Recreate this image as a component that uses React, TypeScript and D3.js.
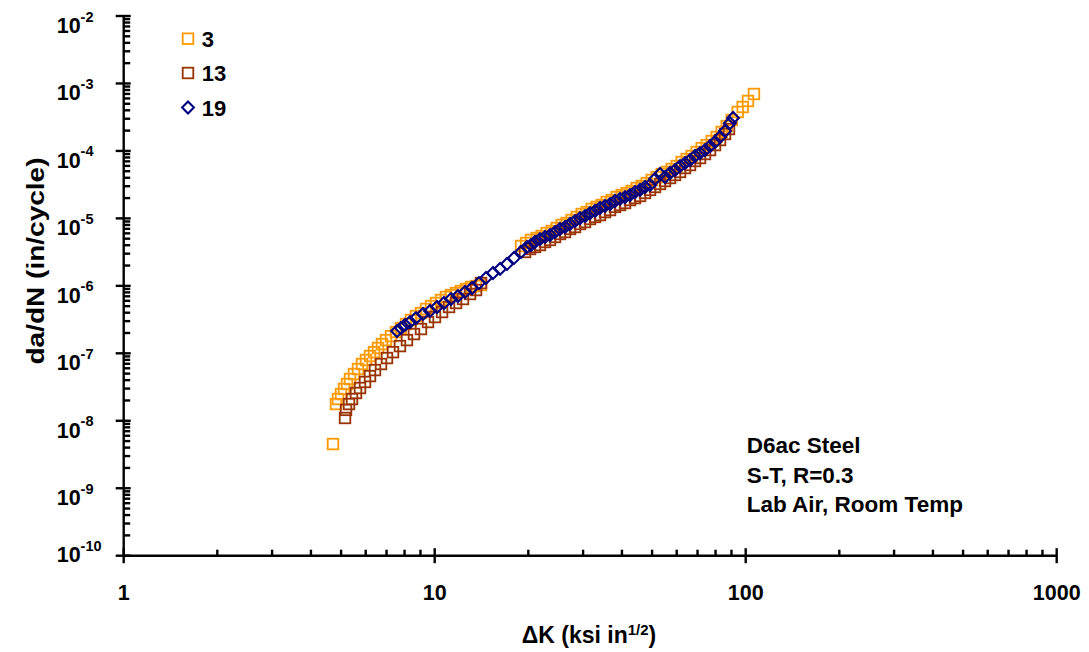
import React from "react";
import * as d3 from "d3";

// ---- data ----
const dK3 = [4.710, 4.815, 4.888, 4.997, 5.110, 5.224, 5.342, 5.502, 5.667, 5.837, 6.012, 6.194, 6.380, 6.571, 6.768, 6.972, 7.235, 7.508, 7.791, 8.085, 8.390, 8.707, 9.035, 9.376, 9.730, 10.10, 10.48, 10.87, 11.28, 11.71, 12.15, 12.61, 13.09, 13.58, 14.09,
  18.95, 19.67, 20.40, 21.28, 22.08, 22.91, 23.78, 24.68, 25.61, 26.57, 27.57, 28.62, 29.70, 30.82, 31.98, 33.18, 34.44, 35.73, 37.08, 38.48, 39.93, 41.44, 42.99, 44.62, 46.30, 48.05, 49.86, 51.74, 53.70, 55.72, 57.82, 59.99, 62.26, 64.61, 67.05, 69.57, 72.20, 74.92, 77.75, 80.68, 83.71, 86.88, 90.16, 94.25, 97.81, 101.7, 106.3];
const rate3 = [4.52e-9, 1.77e-8, 2.10e-8, 2.49e-8, 2.96e-8, 3.51e-8, 4.16e-8, 4.93e-8, 5.85e-8, 6.94e-8, 7.96e-8, 9.12e-8, 1.04e-7, 1.20e-7, 1.37e-7, 1.57e-7, 1.80e-7, 2.07e-7, 2.37e-7, 2.72e-7, 3.12e-7, 3.57e-7, 3.95e-7, 4.54e-7, 5.02e-7, 5.57e-7, 6.17e-7, 6.84e-7, 7.31e-7, 7.83e-7, 8.39e-7, 8.98e-7, 9.62e-7, 9.95e-7, 1.03e-6,
  3.90e-6, 4.32e-6, 4.79e-6, 5.12e-6, 5.48e-6, 6.07e-6, 6.50e-6, 7.20e-6, 7.98e-6, 8.55e-6, 9.46e-6, 1.05e-5, 1.16e-5, 1.24e-5, 1.38e-5, 1.48e-5, 1.58e-5, 1.75e-5, 1.87e-5, 2.07e-5, 2.22e-5, 2.38e-5, 2.55e-5, 2.82e-5, 3.02e-5, 3.34e-5, 3.71e-5, 4.10e-5, 4.55e-5, 4.88e-5, 5.40e-5, 5.97e-5, 6.85e-5, 7.59e-5, 8.41e-5, 9.64e-5, 1.10e-4, 1.22e-4, 1.40e-4, 1.61e-4, 1.91e-4, 2.34e-4, 2.87e-4, 3.78e-4, 4.48e-4, 5.50e-4, 6.98e-4];

const dK13 = [5.148, 5.186, 5.302, 5.421, 5.584, 5.752, 5.969, 6.194, 6.427, 6.720, 7.024, 7.343, 7.732, 8.144, 8.578, 9.035, 9.517, 10.02, 10.56, 11.12, 11.71, 12.33, 12.99, 13.58, 14.09,
  19.52, 20.25, 21.01, 21.80, 22.63, 23.48, 24.37, 25.29, 26.24, 27.23, 28.26, 29.33, 30.43, 31.58, 32.77, 34.01, 35.29, 36.62, 37.99, 39.43, 40.92, 42.46, 44.06, 45.73, 47.45, 49.24, 51.10, 53.02, 55.02, 57.10, 59.25, 61.49, 63.81, 66.22, 68.71, 71.30, 73.99, 76.78, 79.68, 82.68, 85.80, 88.37];
const rate13 = [1.10e-8, 1.45e-8, 1.77e-8, 2.10e-8, 2.58e-8, 3.06e-8, 3.76e-8, 4.60e-8, 5.65e-8, 6.94e-8, 8.51e-8, 1.04e-7, 1.28e-7, 1.57e-7, 1.93e-7, 2.29e-7, 2.91e-7, 3.45e-7, 4.09e-7, 4.86e-7, 5.57e-7, 6.38e-7, 7.57e-7, 8.67e-7, 1.10e-6,
  3.18e-6, 3.52e-6, 3.77e-6, 4.03e-6, 4.47e-6, 4.79e-6, 5.30e-6, 5.87e-6, 6.28e-6, 6.97e-6, 7.45e-6, 8.26e-6, 8.83e-6, 9.79e-6, 1.05e-5, 1.12e-5, 1.24e-5, 1.33e-5, 1.48e-5, 1.58e-5, 1.69e-5, 1.87e-5, 2.00e-5, 2.15e-5, 2.38e-5, 2.64e-5, 2.92e-5, 3.24e-5, 3.58e-5, 3.97e-5, 4.40e-5, 4.88e-5, 5.58e-5, 6.18e-5, 7.09e-5, 7.85e-5, 9.00e-5, 1.03e-4, 1.22e-4, 1.45e-4, 1.78e-4, 2.11e-4];

const dK19 = [7.564, 7.791, 8.025, 8.328, 8.707, 9.171, 9.658, 10.17, 10.71, 11.28, 11.88, 12.52, 13.18, 13.88, 14.62, 15.40, 16.22, 17.08, 17.99, 18.95, 19.81, 20.40,
  21.01, 21.80, 22.63, 23.48, 24.37, 25.29, 26.24, 27.23, 28.26, 29.33, 30.43, 31.58, 32.77, 34.01, 35.29, 36.62, 37.99, 39.43, 40.92, 42.46, 44.06, 45.73, 47.45, 49.24, 51.10, 53.02, 55.02, 57.10, 59.25, 61.49, 63.81, 66.22, 68.71, 71.30, 73.99, 76.78, 79.68, 82.68, 85.80, 89.03, 91.05];
const rate19 = [2.14e-7, 2.37e-7, 2.63e-7, 2.91e-7, 3.33e-7, 3.83e-7, 4.24e-7, 4.86e-7, 5.57e-7, 6.38e-7, 7.07e-7, 8.11e-7, 9.29e-7, 1.10e-6, 1.31e-6, 1.55e-6, 1.78e-6, 2.11e-6, 2.59e-6, 3.18e-6, 3.77e-6, 4.03e-6,
  4.47e-6, 4.94e-6, 5.30e-6, 5.67e-6, 6.28e-6, 6.97e-6, 7.45e-6, 8.26e-6, 9.14e-6, 1.01e-5, 1.08e-5, 1.20e-5, 1.29e-5, 1.43e-5, 1.53e-5, 1.63e-5, 1.81e-5, 1.94e-5, 2.07e-5, 2.22e-5, 2.46e-5, 2.64e-5, 2.92e-5, 3.13e-5, 3.84e-5, 4.55e-5, 4.10e-5, 4.71e-5, 5.21e-5, 5.97e-5, 6.62e-5, 7.33e-5, 8.41e-5, 9.31e-5, 1.03e-4, 1.18e-4, 1.36e-4, 1.61e-4, 1.97e-4, 2.59e-4, 3.08e-4];

const seriesNames = ["3", "13", "19"];
const seriesColors = ["#FF9900", "#993300", "#000080"];
const xTickValues = [1, 10, 100, 1000];
const xTickLabels = ["1", "10", "100", "1000"];
const yExponents = [-2, -3, -4, -5, -6, -7, -8, -9, -10];
const noteLines = ["D6ac Steel", "S-T, R=0.3", "Lab Air, Room Temp"];

const FONT = "'Liberation Sans', Arial, Helvetica, sans-serif";

function Marker({ kind, cx, cy, color }: { kind: string; cx: number; cy: number; color: string }) {
  if (kind === "diamond") {
    const r = 5.9;
    return (
      <path
        d={`M${cx},${cy - r}L${cx + r},${cy}L${cx},${cy + r}L${cx - r},${cy}Z`}
        fill="none"
        stroke={color}
        strokeWidth={2.1}
      />
    );
  }
  const s = 10.6;
  return <rect x={cx - s / 2} y={cy - s / 2} width={s} height={s} fill="none" stroke={color} strokeWidth={1.8} />;
}

export default function App() {
  const x = d3.scaleLog().domain([1, 1000]).range([123.7, 1056.7]);
  const y = d3.scaleLog().domain([1e-10, 1e-2]).range([555.7, 16]);

  const isMajor = (v: number) => Math.abs(Math.log10(v) - Math.round(Math.log10(v))) < 1e-6;
  const xTicks = x.ticks();
  const yTicks = y.ticks();

  const series = [
    { k: dK3, r: rate3, kind: "square" },
    { k: dK13, r: rate13, kind: "square" },
    { k: dK19, r: rate19, kind: "diamond" },
  ];

  const x0 = x.range()[0];
  const y0 = y.range()[0];

  return (
    <svg width={1089} height={652} style={{ position: "absolute", left: 0, top: 0, background: "#fff" }} fontFamily={FONT}>
      <rect x={0} y={0} width={1089} height={652} fill="#fff" />
      {/* data */}
      {series.map((s, si) => (
        <g key={si}>
          {s.k.map((kv, i) => (
            <Marker key={i} kind={s.kind} cx={x(kv)} cy={y(s.r[i])} color={seriesColors[si]} />
          ))}
        </g>
      ))}

      {/* axes */}
      <g stroke="#000" strokeWidth={2.4} strokeLinecap="butt">
        <line x1={x0} x2={x0} y1={y(1e-2)} y2={y0} />
        <line x1={x0} x2={x(1000)} y1={y0} y2={y0} />
        {yTicks.map((t, i) =>
          isMajor(t) ? (
            <line key={"ym" + i} x1={x0 - 8} x2={x0 + 7} y1={y(t)} y2={y(t)} />
          ) : (
            <line key={"yn" + i} x1={x0} x2={x0 + 6.5} y1={y(t)} y2={y(t)} />
          )
        )}
        {xTicks.map((t, i) =>
          isMajor(t) ? (
            <line key={"xm" + i} x1={x(t)} x2={x(t)} y1={y0 - 7.5} y2={y0 + 7.5} />
          ) : (
            <line key={"xn" + i} x1={x(t)} x2={x(t)} y1={y0 - 6} y2={y0} />
          )
        )}
      </g>

      {/* x tick labels */}
      {xTickValues.map((v, i) => (
        <text key={"xl" + i} x={x(v)} y={600} textAnchor="middle" fontSize={21.5} fontWeight="bold" fill="#000">
          {xTickLabels[i]}
        </text>
      ))}

      {/* y tick labels */}
      {yExponents.map((e, i) => {
        const ty = y(Math.pow(10, e));
        const base = e === -10 ? ty + 6.3 : ty + 17;
        return (
          <text key={"yl" + i} x={56.7} y={base} fontSize={21.5} fontWeight="bold" fill="#000">
            10
            <tspan dy={-11.5} fontSize={14.5}>
              {String(e)}
            </tspan>
          </text>
        );
      })}

      {/* axis titles */}
      <text
        transform={`translate(44,261) rotate(-90)`}
        textAnchor="middle"
        fontSize={24}
        fontWeight="bold"
        fill="#000"
        textLength={207}
        lengthAdjust="spacingAndGlyphs"
      >
        da/dN (in/cycle)
      </text>
      <text x={521.7} y={643.3} fontSize={23} fontWeight="bold" fill="#000">
        ΔK (ksi in
        <tspan dy={-8.5} fontSize={15}>
          1/2
        </tspan>
        <tspan dy={8.5}>)</tspan>
      </text>

      {/* legend */}
      {seriesNames.map((n, i) => {
        const cy = [38.7, 73, 107.5][i];
        return (
          <g key={"lg" + i}>
            <Marker kind={i === 2 ? "diamond" : "square"} cx={188} cy={cy} color={seriesColors[i]} />
            <text x={201.7} y={cy + 8} fontSize={22} fontWeight="bold" fill="#000">
              {n}
            </text>
          </g>
        );
      })}

      {/* note */}
      {noteLines.map((t, i) => (
        <text key={"nt" + i} x={746.7} y={453.3 + i * 29.4} fontSize={22.5} fontWeight="bold" fill="#000">
          {t}
        </text>
      ))}
    </svg>
  );
}
